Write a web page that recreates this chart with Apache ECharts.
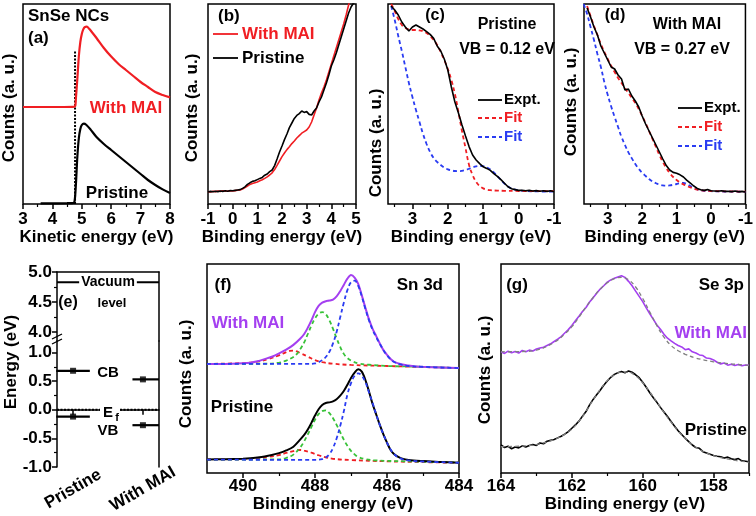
<!DOCTYPE html>
<html><head><meta charset="utf-8">
<script src="https://cdn.jsdelivr.net/npm/echarts@6/dist/echarts.min.js"></script>
<style>html,body{margin:0;padding:0;background:#fff}#c{width:756px;height:516px}</style>
</head><body><div id="c"></div>
<script>
// ---------- DATA ----------
// (a) kinetic energy (eV) vs counts
const aWithMAI = [[3.0,48.5],[4.0,48.5],[4.7,48.6],[4.77,48.8],[4.8,53],[4.85,63],[4.9,74],[4.95,81],[5.0,85],[5.05,87.3],[5.1,88.4],[5.17,88.7],[5.25,87.6],[5.34,86],[5.5,83],[5.75,78],[6.0,73.7],[6.25,70],[6.5,67],[6.75,64],[7.0,61],[7.25,58.5],[7.5,56],[7.75,54.5],[8.0,53.3]];
const aPristine = [[3.6,0.3],[4.5,0.4],[4.72,0.5],[4.76,2],[4.8,10],[4.85,24],[4.9,33],[4.95,37.5],[5.0,39.5],[5.07,40.2],[5.15,39.6],[5.3,37.2],[5.5,33.5],[5.75,30],[6.0,27],[6.25,24],[6.5,21],[6.75,18],[7.0,15],[7.25,12],[7.5,9.5],[7.75,7.3],[8.0,5.5]];
const aCutoff = [[4.77,0],[4.77,77]];
// (b) binding energy (eV) vs counts
const bWithMAI = [[-1.0,6.2],[-0.9,6.0],[-0.8,6.4],[-0.7,6.2],[-0.6,6.5],[-0.5,6.3],[-0.4,6.6],[-0.3,6.4],[-0.2,6.5],[-0.1,6.6],[0.0,6.5],[0.1,6.7],[0.2,6.9],[0.3,7.0],[0.4,7.5],[0.5,8.2],[0.6,9.0],[0.7,9.8],[0.8,10.2],[0.9,10.6],[1.0,11.0],[1.1,11.6],[1.2,12.1],[1.3,12.8],[1.4,13.6],[1.5,14.5],[1.6,15.6],[1.7,17.2],[1.8,19.3],[1.9,21.5],[2.0,23.7],[2.1,25.5],[2.2,27.2],[2.3,28.6],[2.4,30.2],[2.5,31.5],[2.6,33.0],[2.7,34.2],[2.8,35.4],[2.9,36.2],[3.0,37.0],[3.1,38.5],[3.2,41.0],[3.3,44.5],[3.4,48.0],[3.5,52.0],[3.6,55.5],[3.7,58.5],[3.8,62.0],[3.9,66.0],[4.0,70.0],[4.1,74.0],[4.2,78.0],[4.3,82.0],[4.4,86.0],[4.5,90.0],[4.6,94.5],[4.7,99.5],[4.8,104],[4.9,108],[5.0,112]];
const bPristine = [[-1.0,6.0],[-0.9,6.3],[-0.8,6.1],[-0.7,6.4],[-0.6,6.2],[-0.5,6.5],[-0.4,6.3],[-0.3,6.6],[-0.2,6.4],[-0.1,6.7],[0.0,6.6],[0.1,6.8],[0.2,7.0],[0.3,7.2],[0.4,7.8],[0.5,8.6],[0.6,9.8],[0.7,10.6],[0.8,11.3],[0.9,11.6],[1.0,12.2],[1.1,12.8],[1.2,13.3],[1.3,14.4],[1.4,15.0],[1.5,16.2],[1.6,17.0],[1.7,19.2],[1.8,22.5],[1.9,26.0],[2.0,29.0],[2.1,32.2],[2.2,35.0],[2.3,38.2],[2.4,40.5],[2.5,42.8],[2.6,44.3],[2.7,45.2],[2.8,46.5],[2.9,45.8],[3.0,46.2],[3.1,44.8],[3.2,44.5],[3.3,46.5],[3.4,48.0],[3.5,51.0],[3.6,53.5],[3.7,57.0],[3.8,60.5],[3.9,64.5],[4.0,69.0],[4.1,72.0],[4.2,75.5],[4.3,79.5],[4.4,83.5],[4.5,87.5],[4.6,91.5],[4.7,95.5],[4.8,98.5],[4.9,100.5],[5.0,101]];
// (c) Pristine VB fit
const cExpt = [[3.6,99],[3.5,97],[3.4,94.5],[3.3,91],[3.2,88.5],[3.1,86.5],[3.0,88.5],[2.9,89.5],[2.8,88.5],[2.7,87.5],[2.6,86.2],[2.5,84.8],[2.4,82.8],[2.3,79],[2.2,76.5],[2.1,72.5],[2.0,67],[1.9,58.5],[1.8,51],[1.7,45.5],[1.6,39.5],[1.5,34],[1.4,28.7],[1.3,24.5],[1.2,22],[1.1,20.2],[1.0,18.6],[0.9,17.8],[0.8,16.8],[0.7,15.2],[0.6,13.8],[0.5,12.2],[0.4,10.4],[0.3,8.6],[0.2,7.6],[0.1,7.2],[0.0,6.8],[-0.1,6.9],[-0.2,6.6],[-0.3,6.8],[-0.4,6.5],[-0.5,6.7],[-0.6,6.4],[-0.7,6.6],[-0.8,6.3],[-0.9,6.6],[-1.0,6.2]];
const cFitRed = [[3.6,100],[3.5,96.5],[3.4,92.5],[3.3,89.5],[3.2,88],[3.1,87.3],[3.0,87],[2.9,87],[2.8,86.8],[2.7,86.5],[2.6,85.5],[2.5,84],[2.4,82],[2.3,79.5],[2.2,76],[2.1,72],[2.0,67.5],[1.9,62],[1.8,55],[1.7,46],[1.6,36.5],[1.5,28],[1.4,19.5],[1.3,14.5],[1.2,11],[1.1,9],[1.0,7.8],[0.9,7.2],[0.8,6.9],[0.6,6.7],[0.4,6.6],[0.0,6.5],[-1.0,6.4]];
const cFitBlue = [[3.6,99],[3.5,92],[3.4,84],[3.3,76.5],[3.2,68.5],[3.1,60.5],[3.0,53.5],[2.9,47],[2.8,41],[2.7,35],[2.6,30],[2.5,26],[2.4,23],[2.3,21],[2.2,19.5],[2.1,18.2],[2.0,17.3],[1.9,16.8],[1.8,16.5],[1.7,16.4],[1.6,16.6],[1.5,17],[1.4,17.6],[1.3,18.3],[1.2,18.8],[1.1,19],[1.0,18.9],[0.9,18.3],[0.8,17.3],[0.7,15.8],[0.6,14],[0.5,12],[0.4,10.2],[0.3,8.8],[0.2,7.8],[0.1,7.2],[0.0,6.8],[-0.2,6.5],[-0.5,6.3],[-1.0,6.2]];
// (d) With MAI VB fit
const dExpt = [[3.6,98],[3.5,93.5],[3.4,88.5],[3.3,84.5],[3.2,79],[3.1,75.5],[3.0,72],[2.9,68.5],[2.8,67.5],[2.7,64.5],[2.6,62.5],[2.5,57],[2.4,57.5],[2.3,54],[2.2,51.5],[2.1,48.5],[2.0,44],[1.9,40],[1.8,36.5],[1.7,33],[1.6,29.5],[1.5,26],[1.4,22.5],[1.3,19.2],[1.2,17],[1.1,15.8],[1.0,15.4],[0.9,14.6],[0.8,13.5],[0.7,11.8],[0.6,10.4],[0.5,9],[0.4,7.8],[0.3,7.1],[0.2,6.8],[0.1,7.2],[0.0,6.6],[-0.1,6.5],[-0.2,6.4],[-0.3,6.6],[-0.4,6.3],[-0.5,6.4],[-0.6,6.2],[-0.7,6.5],[-0.8,6.1],[-0.9,6.3],[-1.0,6.0]];
const dFitRed = [[3.6,99],[3.5,94],[3.4,89],[3.3,84.5],[3.2,80],[3.1,76],[3.0,72.5],[2.9,69],[2.8,66],[2.7,63],[2.6,60.5],[2.5,58],[2.4,55.5],[2.3,53],[2.2,50.5],[2.1,47.5],[2.0,44],[1.9,40.5],[1.8,36.5],[1.7,32.5],[1.6,28.5],[1.5,24.5],[1.4,21],[1.3,18],[1.2,15.5],[1.1,13.5],[1.0,12],[0.9,10.8],[0.8,9.8],[0.7,9],[0.6,8.3],[0.5,7.7],[0.4,7.2],[0.3,6.9],[0.2,6.7],[0.0,6.5],[-0.5,6.3],[-1.0,6.2]];
const dFitBlue = [[3.7,100],[3.6,95],[3.5,88.5],[3.4,82],[3.3,75],[3.2,68.5],[3.1,61],[3.0,54.5],[2.9,48.7],[2.8,43.5],[2.7,38.5],[2.6,33.5],[2.5,29.5],[2.4,25.8],[2.3,22.8],[2.2,20],[2.1,17.6],[2.0,15.6],[1.9,14],[1.8,12.5],[1.7,11.3],[1.6,10.4],[1.5,9.7],[1.4,9.3],[1.3,9.2],[1.2,9.3],[1.1,9.6],[1.0,10],[0.9,10.4],[0.8,10.5],[0.7,10],[0.6,9],[0.5,8],[0.4,7.3],[0.3,6.9],[0.2,6.6],[0.0,6.4],[-0.5,6.2],[-1.0,6.1]];
// (e) energy levels
const eCats = ['Pristine', 'With MAI'];
const eCatX = [1, 2];
const eCB = [0.68, 0.53];
const eVB = [-0.12, -0.27];
const eVacuum = 4.83;
const eFermi = 0.0;
const eLevelFrom = [0.76, 1.85];
const eLevelTo = [1.24, 2.23];
// (f) Sn 3d
const fMai = [[491.0,52.2],[490.5,52.2],[490.0,52.5],[489.8,52.8],[489.6,53.5],[489.4,54.5],[489.2,55.6],[489.0,57.2],[488.8,59.0],[488.6,61.3],[488.4,64.5],[488.3,66.5],[488.2,69.5],[488.1,73.0],[488.0,77.0],[487.9,80.0],[487.8,81.5],[487.7,82.2],[487.6,82.5],[487.5,83.0],[487.4,84.5],[487.3,87.0],[487.2,90.0],[487.1,93.0],[487.0,94.7],[486.9,93.5],[486.8,90.5],[486.7,85.0],[486.6,79.0],[486.5,73.5],[486.4,69.0],[486.3,65.5],[486.2,62.0],[486.1,58.8],[486.0,56.5],[485.9,54.5],[485.8,53.2],[485.6,52.0],[485.4,51.4],[485.2,51.0],[485.0,50.8],[484.5,50.5],[484.0,50.2]];
const fMaiBlue = [[491,52.2],[488.2,52.2],[488.0,52.4],[487.9,53],[487.8,54],[487.7,55.5],[487.6,58],[487.5,62],[487.4,67.5],[487.3,74.5],[487.2,81.5],[487.1,87.5],[487.0,91.3],[486.9,92],[486.8,89.5],[486.7,84.5],[486.6,78.5],[486.5,73],[486.4,68.5],[486.3,65],[486.2,61.8],[486.1,58.8],[486.0,56.3],[485.9,54.4],[485.8,53.1],[485.6,51.8],[485.4,51.2],[485.0,50.8],[484.0,50.2]];
const fMaiGreen = [[491,52.2],[489.4,52.3],[489.0,52.8],[488.8,53.8],[488.6,55.5],[488.5,57],[488.4,59.5],[488.3,62.5],[488.2,66.5],[488.1,70.5],[488.0,74],[487.9,76.2],[487.8,77],[487.7,76],[487.6,73],[487.5,69],[487.4,64.5],[487.3,60.3],[487.2,57],[487.1,55],[487.0,53.8],[486.8,52.5],[486.5,51.8],[486.0,51.2],[485.0,50.8],[484.0,50.2]];
const fMaiRed = [[491,52.2],[490,52.6],[489.6,53.3],[489.3,54.5],[489.0,56.3],[488.8,57.8],[488.7,58.4],[488.6,58.6],[488.5,58.2],[488.4,57.3],[488.2,55.7],[488.0,54.0],[487.8,53.0],[487.5,52.3],[487.0,51.7],[486.0,51.2],[485.0,50.7],[484.0,50.2]];
const fPri = [[491,6.5],[490.5,6.6],[490.0,6.8],[489.8,7.0],[489.6,7.4],[489.4,7.9],[489.2,8.6],[489.0,9.5],[488.8,10.8],[488.6,12.6],[488.4,16.2],[488.3,18.2],[488.2,20.8],[488.1,24.0],[488.0,27.5],[487.9,30.5],[487.8,32.5],[487.7,33.5],[487.6,33.8],[487.5,34.3],[487.4,35.3],[487.3,37.0],[487.2,39.2],[487.1,42.2],[487.0,45.5],[486.9,48.0],[486.8,49.6],[486.7,48.5],[486.6,44.5],[486.5,39.0],[486.4,33.0],[486.3,28.0],[486.2,23.0],[486.1,18.5],[486.0,14.5],[485.9,11.0],[485.8,9.0],[485.7,7.8],[485.6,7.0],[485.4,6.2],[485.0,5.7],[484.5,5.3],[484.0,4.9]];
const fPriBlue = [[491,6.4],[488.0,6.3],[487.8,6.6],[487.7,7.4],[487.6,9.0],[487.5,12.0],[487.4,16.5],[487.3,22.5],[487.2,29.5],[487.1,37.5],[487.0,43.0],[486.9,46.5],[486.8,47.7],[486.7,46.5],[486.6,43.5],[486.5,38.5],[486.4,33.5],[486.3,28.0],[486.2,23.0],[486.1,18.5],[486.0,14.5],[485.9,11.2],[485.8,9.0],[485.7,7.6],[485.6,6.8],[485.4,6.0],[485.0,5.5],[484.0,4.9]];
const fPriGreen = [[491,6.4],[489.0,6.5],[488.8,7.2],[488.6,8.8],[488.4,12.5],[488.3,15.2],[488.2,18.5],[488.1,22.0],[488.0,25.5],[487.9,28.2],[487.8,29.6],[487.7,30.0],[487.6,28.6],[487.5,26.2],[487.4,23.0],[487.3,19.5],[487.2,16.0],[487.1,13.0],[487.0,10.6],[486.9,8.9],[486.8,7.7],[486.6,6.6],[486.3,6.0],[485.5,5.6],[484.0,5.0]];
const fPriRed = [[491,6.5],[490,6.6],[489.6,7.0],[489.3,7.7],[489.0,8.6],[488.8,9.6],[488.6,10.5],[488.5,10.9],[488.4,11.0],[488.3,10.7],[488.1,9.7],[487.9,8.5],[487.7,7.5],[487.5,6.8],[487.0,6.2],[486.0,5.6],[485.0,5.2],[484.0,4.9]];
// (g) Se 3p
const gMai = [[164.0,58.0],[163.9,57.2],[163.8,58.3],[163.7,57.5],[163.6,58.1],[163.5,57.4],[163.4,58.6],[163.3,58.0],[163.2,58.8],[163.1,58.4],[163.0,59.3],[162.9,59.8],[162.8,60.2],[162.7,61.0],[162.6,61.8],[162.5,62.9],[162.4,64.0],[162.3,65.3],[162.2,67.0],[162.1,68.6],[162.0,70.6],[161.9,72.8],[161.8,75.0],[161.7,77.3],[161.6,79.2],[161.5,81.8],[161.4,83.8],[161.3,86.0],[161.2,88.0],[161.1,89.6],[161.0,91.3],[160.9,92.4],[160.8,93.2],[160.7,93.8],[160.6,94.4],[160.5,93.6],[160.4,91.7],[160.3,89.6],[160.2,87.0],[160.1,84.5],[160.0,82.0],[159.9,79.0],[159.8,76.2],[159.7,73.5],[159.6,70.8],[159.5,68.8],[159.4,66.4],[159.3,64.5],[159.2,63.2],[159.1,62.0],[159.0,61.0],[158.9,60.3],[158.8,59.0],[158.7,59.4],[158.6,58.0],[158.5,57.4],[158.4,56.5],[158.3,56.2],[158.2,55.0],[158.1,54.8],[158.0,54.1],[157.9,53.0],[157.8,52.2],[157.7,52.6],[157.6,51.6],[157.5,52.0],[157.4,51.4],[157.3,51.9],[157.2,51.3],[157.1,51.7],[157.0,51.5]];
const gMaiFit = [[164,58],[163.5,58.1],[163,58.8],[162.5,62.5],[162.2,66.5],[162,70],[161.8,74.5],[161.6,79.5],[161.4,84],[161.2,88],[161,91],[160.8,93],[160.6,93.6],[160.4,92.5],[160.2,89],[160,83.5],[159.8,77],[159.6,70.5],[159.4,65],[159.2,61],[159,58.5],[158.8,56.8],[158.5,55],[158,53.2],[157.5,52.2],[157,51.5]];
const gPri = [[164.0,13.4],[163.9,12.2],[163.8,12.8],[163.7,11.6],[163.6,12.4],[163.5,12.0],[163.4,13.0],[163.3,12.4],[163.2,13.2],[163.1,13.6],[163.0,13.2],[162.9,14.4],[162.8,14.0],[162.7,15.2],[162.6,15.6],[162.5,16.0],[162.4,16.8],[162.3,17.6],[162.2,18.6],[162.1,19.8],[162.0,21.4],[161.9,23.0],[161.8,24.8],[161.7,27.2],[161.6,29.4],[161.5,32.6],[161.4,35.2],[161.3,37.4],[161.2,39.6],[161.1,42.0],[161.0,44.0],[160.9,45.8],[160.8,47.2],[160.7,48.0],[160.6,48.6],[160.5,48.0],[160.4,48.8],[160.3,48.2],[160.2,47.0],[160.1,45.6],[160.0,43.4],[159.9,41.0],[159.8,38.4],[159.7,36.0],[159.6,33.8],[159.5,31.4],[159.4,29.2],[159.3,27.0],[159.2,24.6],[159.1,22.4],[159.0,20.2],[158.9,18.4],[158.8,16.6],[158.7,15.0],[158.6,13.4],[158.5,12.2],[158.4,11.8],[158.3,10.2],[158.2,9.6],[158.1,9.0],[158.0,8.4],[157.9,8.0],[157.8,7.8],[157.7,7.2],[157.6,7.6],[157.5,6.8],[157.4,6.4],[157.3,6.9],[157.2,5.8],[157.1,5.6],[157.0,5.4]];
const gPriFit = [[164,12.6],[163.5,12.8],[163,13.6],[162.5,16],[162.2,18.5],[162,21],[161.8,24.8],[161.6,29.5],[161.4,35],[161.2,40],[161,44.2],[160.8,47],[160.6,48.3],[160.4,48.2],[160.2,46.5],[160,43.2],[159.8,38.8],[159.6,34],[159.4,29],[159.2,24.3],[159,20],[158.8,16.5],[158.6,13.6],[158.4,11.3],[158.2,9.6],[158,8.3],[157.5,6.3],[157,5.2]];

// tick values
const aTicks = [3,4,5,6,7,8], aMinor = [3.5,4.5,5.5,6.5,7.5];
const bTicks = [-1,0,1,2,3,4,5], bMinor = [-0.5,0.5,1.5,2.5,3.5,4.5];
const cdTicks = [-1,0,1,2,3], cdMinor = [-0.5,0.5,1.5,2.5,3.5];
const fTicks = [484,486,488,490], fMinor = [485,487,489];
const gTicks = [158,160,162,164], gMinor = [157,159,161,163];
const eUpTicks = [4.0,4.5,5.0], eUpMinor = [4.25,4.75];
const eLoTicks = [-1.0,-0.5,0.0,0.5,1.0], eLoMinor = [-0.75,-0.25,0.25,0.75];

// ---------- STYLE ----------
const F = "'Liberation Sans', Arial, Helvetica, sans-serif";
const RED = '#f01e23', BLUE = '#2a3cf2', GREEN = '#38c238', PURPLE = '#a43ff0', GRAY = '#808080', BLK = '#000';
const lab = {color: BLK, fontFamily: F, fontWeight: 'bold', fontSize: 17};
const ttl = {color: BLK, fontFamily: F, fontWeight: 'bold', fontSize: 17};

const grids = [
  {left: 23, top: 4, width: 147, height: 200},
  {left: 208, top: 4, width: 148, height: 200},
  {left: 388, top: 4, width: 166, height: 200},
  {left: 584, top: 4, width: 165, height: 200},
  {left: 57, top: 272, width: 102, height: 69},
  {left: 57, top: 341, width: 102, height: 132},
  {left: 207, top: 264, width: 252, height: 209},
  {left: 501, top: 264, width: 248, height: 209}
].map((g, i) => Object.assign({show: i !== 4 && i !== 5, borderColor: BLK, borderWidth: 1.5}, g));

function xPair(gi, min, max, inverse, majors, minors, name, margin, gap) {
  const base = {type: 'value', gridIndex: gi, min: min, max: max, inverse: inverse, position: 'bottom',
    splitLine: {show: false}, axisLine: {show: false}};
  return [
    Object.assign({}, base, {
      axisTick: {show: true, inside: false, length: 5, customValues: majors, lineStyle: {color: BLK, width: 1.5}},
      axisLabel: Object.assign({customValues: majors, margin: margin}, lab),
      name: name, nameLocation: 'middle', nameGap: gap, nameTextStyle: ttl
    }),
    Object.assign({}, base, {
      axisTick: {show: true, inside: false, length: 3, customValues: minors, lineStyle: {color: BLK, width: 1.2}},
      axisLabel: {show: false}
    })
  ];
}
function yHidden(gi, min, max) {
  return {type: 'value', gridIndex: gi, min: min, max: max, axisLine: {show: false}, axisTick: {show: false},
    axisLabel: {show: false}, splitLine: {show: false}};
}
const fmt1 = v => Number(v).toFixed(1);
function yEnergy(gi, min, max, majors, minors) {
  return [
    {type: 'value', gridIndex: gi, min: min, max: max, position: 'left', splitLine: {show: false},
      axisLine: {show: true, lineStyle: {color: BLK, width: 1.5}},
      axisTick: {show: true, inside: false, length: 5, customValues: majors, lineStyle: {color: BLK, width: 1.5}},
      axisLabel: Object.assign({customValues: majors, margin: 5, formatter: fmt1}, lab)},
    {type: 'value', gridIndex: gi, min: min, max: max, position: 'left', splitLine: {show: false},
      axisLine: {show: false},
      axisTick: {show: true, inside: false, length: 3, customValues: minors, lineStyle: {color: BLK, width: 1.2}},
      axisLabel: {show: false}},
    {type: 'value', gridIndex: gi, min: min, max: max, position: 'right', splitLine: {show: false},
      axisLine: {show: true, lineStyle: {color: BLK, width: 1.5}}, axisTick: {show: false}, axisLabel: {show: false}}
  ];
}

const xAxes = [].concat(
  xPair(0, 3, 8, false, aTicks, aMinor, 'Kinetic energy (eV)', 7, 24),       // 0,1
  xPair(1, -1, 5, false, bTicks, bMinor, 'Binding energy (eV)', 7, 24),      // 2,3
  xPair(2, -1, 3.69, true, cdTicks, cdMinor, 'Binding energy (eV)', 7, 24),  // 4,5
  xPair(3, -1, 3.69, true, cdTicks, cdMinor, 'Binding energy (eV)', 7, 24),  // 6,7
  [{type: 'value', gridIndex: 4, min: 0.77, max: 2.23, position: 'top', splitLine: {show: false},
    axisLine: {show: true, lineStyle: {color: BLK, width: 1.5}}, axisTick: {show: false}, axisLabel: {show: false}}, // 8
   {type: 'value', gridIndex: 5, min: 0.77, max: 2.23, position: 'bottom', splitLine: {show: false},
    axisLine: {show: true, lineStyle: {color: BLK, width: 1.5}},
    axisTick: {show: true, inside: false, length: 5, customValues: eCatX, lineStyle: {color: BLK, width: 1.5}},
    axisLabel: Object.assign({customValues: eCatX, formatter: v => eCats[Math.round(v) - 1], rotate: 30,
      align: 'center', verticalAlign: 'middle', margin: 22}, lab)}], // 9
  xPair(6, 484, 491, true, fTicks, fMinor, 'Binding energy (eV)', 5, 22),    // 10,11
  xPair(7, 157, 164, true, gTicks, gMinor, 'Binding energy (eV)', 5, 22)     // 12,13
);
const yAxes = [].concat(
  [yHidden(0, 0, 100), yHidden(1, 0, 100), yHidden(2, 0, 100), yHidden(3, 0, 100)], // 0-3
  yEnergy(4, 3.85, 5.0, eUpTicks, eUpMinor),   // 4,5,6
  yEnergy(5, -1, 1.2, eLoTicks, eLoMinor),     // 7,8,9
  [yHidden(6, 0, 100), yHidden(7, 0, 100)]     // 10,11
);

function S(xi, yi, data, color, o) {
  o = o || {};
  return {type: 'line', xAxisIndex: xi, yAxisIndex: yi, data: data, showSymbol: false, symbol: 'none',
    silent: true, smooth: o.smooth || false, z: o.z || 2,
    lineStyle: {color: color, width: o.w || 1.8, type: o.dash || 'solid', cap: 'butt'}};
}
const DASH = [4, 3];
const series = [
  // (a)
  S(0, 0, aCutoff, BLK, {dash: [2, 1.5], w: 2}),
  S(0, 0, aWithMAI, RED, {w: 2.2, smooth: 0.3}),
  S(0, 0, aPristine, BLK, {w: 2.2, smooth: 0.3}),
  // (b)
  S(2, 1, bWithMAI, RED, {w: 1.6}),
  S(2, 1, bPristine, BLK, {w: 1.6}),
  // (c)
  S(4, 2, cFitBlue, BLUE, {dash: DASH, smooth: 0.4}),
  S(4, 2, cFitRed, RED, {dash: DASH, smooth: 0.4}),
  S(4, 2, cExpt, BLK, {w: 1.6}),
  // (d)
  S(6, 3, dFitBlue, BLUE, {dash: DASH, smooth: 0.4}),
  S(6, 3, dFitRed, RED, {dash: DASH, smooth: 0.4}),
  S(6, 3, dExpt, BLK, {w: 1.6}),
  // (e)
  S(8, 4, [[0.77, eVacuum], [2.23, eVacuum]], BLK, {w: 2}),
  S(9, 7, [[0.77, eFermi], [2.23, eFermi]], BLK, {w: 2, dash: [2, 1.5]}),
  S(9, 7, [[eLevelFrom[0], eCB[0]], [eLevelTo[0], eCB[0]]], BLK, {w: 2.2}),
  S(9, 7, [[eLevelFrom[1], eCB[1]], [eLevelTo[1], eCB[1]]], BLK, {w: 2.2}),
  S(9, 7, [[eLevelFrom[0], eVB[0]], [eLevelTo[0], eVB[0]]], BLK, {w: 2.2}),
  S(9, 7, [[eLevelFrom[1], eVB[1]], [eLevelTo[1], eVB[1]]], BLK, {w: 2.2}),
  {type: 'scatter', xAxisIndex: 9, yAxisIndex: 7, symbol: 'rect', symbolSize: 6, silent: true,
    itemStyle: {color: BLK},
    data: [[eCatX[0], eCB[0]], [eCatX[1], eCB[1]], [eCatX[0], eVB[0]], [eCatX[1], eVB[1]]]},
  // (f)
  S(10, 10, fMaiRed, RED, {dash: DASH, smooth: 0.4}),
  S(10, 10, fMaiGreen, GREEN, {dash: DASH, smooth: 0.4}),
  S(10, 10, fMai, PURPLE, {w: 2, smooth: 0.3}),
  S(10, 10, fMaiBlue, BLUE, {dash: DASH, smooth: 0.4}),
  S(10, 10, fPriRed, RED, {dash: DASH, smooth: 0.4}),
  S(10, 10, fPriGreen, GREEN, {dash: DASH, smooth: 0.4}),
  S(10, 10, fPri, BLK, {w: 2, smooth: 0.3}),
  S(10, 10, fPriBlue, BLUE, {dash: DASH, smooth: 0.4}),
  // (g)
  S(12, 11, gMai, PURPLE, {w: 1.6}),
  S(12, 11, gMaiFit, GRAY, {dash: DASH, smooth: 0.4, w: 1.3}),
  S(12, 11, gPri, BLK, {w: 1.6}),
  S(12, 11, gPriFit, GRAY, {dash: DASH, smooth: 0.4, w: 1.3})
];

// ---------- ANNOTATIONS ----------
function T(x, y, text, o) {
  o = o || {};
  const st = {text: text, fill: o.color || BLK, fontFamily: F, fontWeight: 'bold', fontSize: o.size || 17,
    align: o.align || 'center', textAlign: o.align || 'center', verticalAlign: 'middle', textVerticalAlign: 'middle'};
  if (o.bg) { st.backgroundColor = o.bg; st.padding = [0, 2]; }
  return {type: 'text', x: x, y: y, z: 100, silent: true, rotation: o.rot || 0, style: st};
}
function R(x, y, text) { return T(x, y, text, {rot: Math.PI / 2}); }
function L(x1, y1, x2, y2, color, dash, w) {
  return {type: 'line', z: 100, silent: true, shape: {x1: x1, y1: y1, x2: x2, y2: y2},
    style: {stroke: color, lineWidth: w || 1.8, lineDash: dash || null}};
}
const graphics = [
  // (a)
  T(28, 16, 'SnSe NCs', {align: 'left'}), T(28, 38, '(a)', {align: 'left'}),
  T(126, 108, 'With MAI', {color: RED}), T(117, 193, 'Pristine'),
  R(9, 108, 'Counts (a. u.)'),
  // (b)
  T(218, 16, '(b)', {align: 'left'}),
  L(213, 34, 238, 34, RED), T(242, 34, 'With MAI', {align: 'left', color: RED}),
  L(213, 58, 238, 58, BLK), T(242, 58, 'Pristine', {align: 'left'}),
  R(192, 108, 'Counts (a. u.)'),
  // (c)
  T(435, 16, '(c)', {size: 16}), T(507, 25, 'Pristine', {size: 16}), T(507, 50, 'VB = 0.12 eV', {size: 16}),
  L(478, 100, 502, 100, BLK), T(504, 100, 'Expt.', {align: 'left', size: 15}),
  L(478, 118, 502, 118, RED, [4, 3]), T(504, 118, 'Fit', {align: 'left', size: 15, color: RED}),
  L(478, 137, 502, 137, BLUE, [4, 3]), T(504, 137, 'Fit', {align: 'left', size: 15, color: BLUE}),
  R(376, 143, 'Counts (a. u.)'),
  // (d)
  T(615, 16, '(d)', {size: 16}), T(687, 25, 'With MAI', {size: 16}), T(682, 50, 'VB = 0.27 eV', {size: 16}),
  L(678, 108, 702, 108, BLK), T(704, 108, 'Expt.', {align: 'left', size: 15}),
  L(678, 127, 702, 127, RED, [4, 3]), T(704, 127, 'Fit', {align: 'left', size: 15, color: RED}),
  L(678, 146, 702, 146, BLUE, [4, 3]), T(704, 146, 'Fit', {align: 'left', size: 15, color: BLUE}),
  R(571, 102, 'Counts (a. u.)'),
  // (e)
  R(11, 362, 'Energy (eV)'),
  T(108, 282, 'Vacuum', {size: 14, bg: '#fff'}), T(112, 303, 'level', {size: 13}), T(68, 303, '(e)', {size: 16}),
  T(108, 373, 'CB', {size: 15}), T(108, 431, 'VB', {size: 15}),
  {type: 'rect', z: 99, silent: true, shape: {x: 100, y: 405, width: 20, height: 18}, style: {fill: '#fff'}},
  T(108, 413, 'E', {size: 15}), T(117, 418, 'f', {size: 11}),
  L(52, 339, 62, 334, BLK, null, 1.3), L(52, 344, 62, 339, BLK, null, 1.3),
  // (f)
  T(223, 285, '(f)'), T(443, 285, 'Sn 3d', {align: 'right'}),
  T(248, 323, 'With MAI', {color: PURPLE}), T(242, 407, 'Pristine'),
  R(186, 374, 'Counts (a. u.)'),
  // (g)
  T(517, 285, '(g)'), T(744, 285, 'Se 3p', {align: 'right'}),
  T(747, 333, 'With MAI', {align: 'right', color: PURPLE}), T(747, 430, 'Pristine', {align: 'right'}),
  R(485, 370, 'Counts (a. u.)')
];

const chart = echarts.init(document.getElementById('c'), null, {renderer: 'canvas'});
chart.setOption({
  animation: false,
  backgroundColor: '#fff',
  textStyle: {fontFamily: F},
  grid: grids,
  xAxis: xAxes,
  yAxis: yAxes,
  series: series,
  graphic: {elements: graphics}
});
</script>
</body></html>
